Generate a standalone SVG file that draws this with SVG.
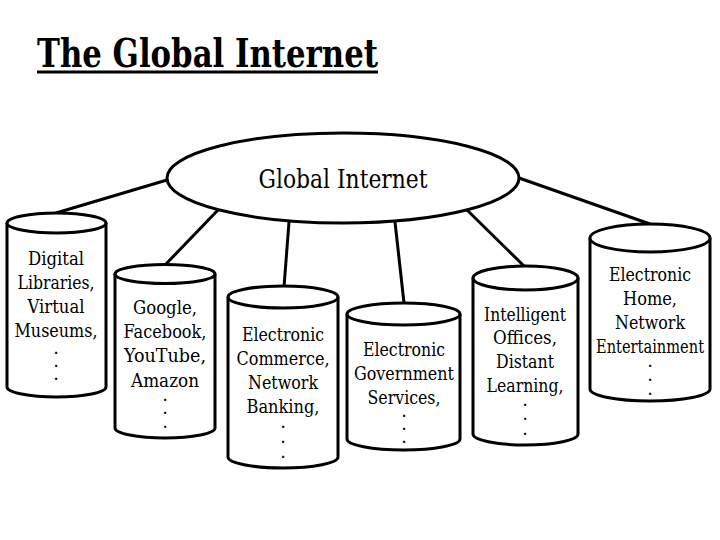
<svg xmlns="http://www.w3.org/2000/svg" width="720" height="540" viewBox="0 0 720 540">
<style>
.ln{stroke:#000;stroke-width:3;fill:none}
.sh{stroke:#000;stroke-width:3;fill:#fff}
text{font-family:'DejaVu Serif',serif;fill:#000}
.t{font-size:19px;text-anchor:middle}
.g{font-size:26px;text-anchor:middle}
.d{font-size:12px;font-weight:bold;text-anchor:middle}
.h{font-size:39px;font-weight:bold}
</style>
<rect width="720" height="540" fill="#fff"/>
<g id="title">
<text class="h" x="37" y="67" textLength="341" lengthAdjust="spacingAndGlyphs">The Global Internet</text>
<line x1="37" y1="72" x2="378" y2="72" stroke="#000" stroke-width="3"/>
</g>
<g id="connectors">
<line class="ln" x1="167" y1="180" x2="56" y2="213"/>
<line class="ln" x1="218" y1="210" x2="166" y2="264"/>
<line class="ln" x1="289" y1="222" x2="284" y2="287"/>
<line class="ln" x1="395" y1="222" x2="404" y2="303"/>
<line class="ln" x1="467" y1="210" x2="524" y2="266"/>
<line class="ln" x1="519" y1="178" x2="650" y2="224"/>
</g>
<g id="global">
<ellipse class="sh" cx="343" cy="178" rx="176" ry="45"/>
<text class="g" x="343" y="188" textLength="169" lengthAdjust="spacingAndGlyphs">Global Internet</text>
</g>
<g id="cyl1">
<path class="sh" d="M7,223 V387 A49.5,10 0 0 0 106,387 V223"/>
<ellipse class="sh" cx="56.5" cy="223" rx="49.5" ry="10"/>
<text class="t" x="56" y="265" textLength="56" lengthAdjust="spacingAndGlyphs">Digital</text>
<text class="t" x="56" y="289" textLength="77" lengthAdjust="spacingAndGlyphs">Libraries,</text>
<text class="t" x="56" y="313" textLength="57" lengthAdjust="spacingAndGlyphs">Virtual</text>
<text class="t" x="56" y="337" textLength="83" lengthAdjust="spacingAndGlyphs">Museums,</text>
<text class="d" x="56" y="354">.</text>
<text class="d" x="56" y="367">.</text>
<text class="d" x="56" y="380">.</text>
</g>
<g id="cyl2">
<path class="sh" d="M115,274 V428 A50,10 0 0 0 215,428 V274"/>
<ellipse class="sh" cx="165" cy="274" rx="50" ry="9.5"/>
<text class="t" x="165" y="314" textLength="64" lengthAdjust="spacingAndGlyphs">Google,</text>
<text class="t" x="165" y="338" textLength="83" lengthAdjust="spacingAndGlyphs">Facebook,</text>
<text class="t" x="165" y="362" textLength="82" lengthAdjust="spacingAndGlyphs">YouTube,</text>
<text class="t" x="165" y="387" textLength="68" lengthAdjust="spacingAndGlyphs">Amazon</text>
<text class="d" x="165" y="401">.</text>
<text class="d" x="165" y="414">.</text>
<text class="d" x="165" y="428">.</text>
</g>
<g id="cyl3">
<path class="sh" d="M228,297 V457 A55,11 0 0 0 338,457 V297"/>
<ellipse class="sh" cx="283" cy="297" rx="55" ry="11"/>
<text class="t" x="283" y="341" textLength="82" lengthAdjust="spacingAndGlyphs">Electronic</text>
<text class="t" x="283" y="365" textLength="93" lengthAdjust="spacingAndGlyphs">Commerce,</text>
<text class="t" x="283" y="389" textLength="70" lengthAdjust="spacingAndGlyphs">Network</text>
<text class="t" x="283" y="413" textLength="73" lengthAdjust="spacingAndGlyphs">Banking,</text>
<text class="d" x="283" y="428">.</text>
<text class="d" x="283" y="443">.</text>
<text class="d" x="283" y="458">.</text>
</g>
<g id="cyl4">
<path class="sh" d="M347,314 V439 A56.5,11 0 0 0 460,439 V314"/>
<ellipse class="sh" cx="403.5" cy="314" rx="56.5" ry="11"/>
<text class="t" x="404" y="356" textLength="82" lengthAdjust="spacingAndGlyphs">Electronic</text>
<text class="t" x="404" y="380" textLength="100" lengthAdjust="spacingAndGlyphs">Government</text>
<text class="t" x="404" y="404" textLength="73" lengthAdjust="spacingAndGlyphs">Services,</text>
<text class="d" x="404" y="417" font-size="11">.</text>
<text class="d" x="404" y="430" font-size="11">.</text>
<text class="d" x="404" y="443" font-size="11">.</text>
</g>
<g id="cyl5">
<path class="sh" d="M473,278 V434 A52.5,11 0 0 0 578,434 V278"/>
<ellipse class="sh" cx="525.5" cy="278" rx="52.5" ry="12"/>
<text class="t" x="525" y="321" textLength="82" lengthAdjust="spacingAndGlyphs">Intelligent</text>
<text class="t" x="525" y="344" textLength="64" lengthAdjust="spacingAndGlyphs">Offices,</text>
<text class="t" x="525" y="368" textLength="58" lengthAdjust="spacingAndGlyphs">Distant</text>
<text class="t" x="525" y="392" textLength="77" lengthAdjust="spacingAndGlyphs">Learning,</text>
<text class="d" x="525" y="406">.</text>
<text class="d" x="525" y="420">.</text>
<text class="d" x="525" y="435">.</text>
</g>
<g id="cyl6">
<path class="sh" d="M590,238 V389 A60,12 0 0 0 710,389 V238"/>
<ellipse class="sh" cx="650" cy="238" rx="60" ry="14"/>
<text class="t" x="650" y="281" textLength="82" lengthAdjust="spacingAndGlyphs">Electronic</text>
<text class="t" x="650" y="305" textLength="54" lengthAdjust="spacingAndGlyphs">Home,</text>
<text class="t" x="650" y="329" textLength="70" lengthAdjust="spacingAndGlyphs">Network</text>
<text class="t" x="650" y="353" textLength="108" lengthAdjust="spacingAndGlyphs">Entertainment</text>
<text class="d" x="650" y="367">.</text>
<text class="d" x="650" y="381">.</text>
<text class="d" x="650" y="395">.</text>
</g>
</svg>
